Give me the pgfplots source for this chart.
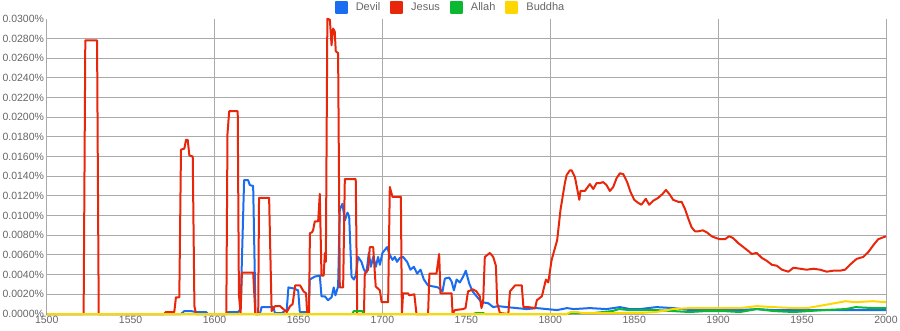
\documentclass[border=0pt]{standalone}
\usepackage{fontspec}
\setmainfont{Liberation Sans}
\usepackage{pgfplots}
\pgfplotsset{compat=1.18}
\definecolor{devil}{RGB}{26,108,240}
\definecolor{jesus}{RGB}{232,38,10}
\definecolor{allah}{RGB}{10,184,50}
\definecolor{buddha}{RGB}{255,215,0}
\definecolor{gridc}{RGB}{170,170,170}
\definecolor{txt}{RGB}{102,102,102}
\begin{document}
\begin{tikzpicture}
\useasboundingbox (0,0) rectangle (900pt,330pt);
\begin{axis}[
  at={(46.7pt,16pt)}, anchor=south west,
  scale only axis, width=839.3pt, height=295.3pt,
  xmin=1500, xmax=2000, ymin=0, ymax=300,
  clip=false,
  axis line style={draw=none},
  major tick length=0pt,
  tick style={draw=none},
  xtick={1500,1550,1600,1650,1700,1750,1800,1850,1900,1950,2000},
  xticklabels={1500,1550,1600,1650,1700,1750,1800,1850,1900,1950,2000},
  extra x ticks={1500,1600,1700,1800,1900,2000},
  extra x tick labels={},
  extra x tick style={grid=major},
  ytick={0,20,40,60,80,100,120,140,160,180,200,220,240,260,280},
  yticklabels={0.0000\%,0.0020\%,0.0040\%,0.0060\%,0.0080\%,0.0100\%,0.0120\%,0.0140\%,0.0160\%,0.0180\%,0.0200\%,0.0220\%,0.0240\%,0.0260\%,0.0280\%},
  extra y ticks={300},
  extra y tick labels={0.0300\%},
  extra y tick style={grid=none},
  ymajorgrids=true,
  grid style={gridc, line width=1pt},
  ticklabel style={font=\fontsize{10.5}{12}\selectfont, text=txt},
  yticklabel style={anchor=east, inner xsep=0pt, xshift=-2.5pt},
  xticklabel style={anchor=north, inner ysep=0pt, yshift=-2pt},
  legend style={at={(0.48,1.0396)}, anchor=center, draw=none, fill=none,
    font=\fontsize{11}{13}\selectfont, text=txt, inner sep=0pt,
    nodes={inner sep=0pt},
    /tikz/every odd column/.append style={column sep=8pt},
    /tikz/every even column/.append style={column sep=10pt}},
  legend columns=4,
  legend image code/.code={\fill[#1] (0pt,-5.5pt) rectangle (11pt,5.5pt);},
  every axis plot/.append style={line width=2pt, line join=round, mark=none},
]
\addplot[devil] coordinates {
(1500,0)(1580,0)(1582,3)(1586,3)(1589,2)(1595,2)(1596,0)(1607,0)(1608,2)(1614,2)(1615.5,5)
(1617.6,136)(1620,136)(1621,131)(1623,130)(1624.4,0)(1627,0)(1628,7)(1635,7)(1636,1)(1640,1)
(1641,2)(1643,4)(1644,27)(1647,26)(1649.8,24)(1650.8,2)(1656,2)(1656.7,35)(1659.7,38)(1662.7,39)
(1663.7,18)(1665.7,18)(1667.6,14)(1669.7,17)(1671,27)(1672,19)(1673.6,28)(1674.6,106)(1676.2,112)
(1677.6,95)(1679.2,103)(1680.2,99)(1681.6,38)(1683,35)(1684.1,39)(1685.5,58)(1687.5,53)(1689,45)
(1690.5,42)(1691.9,62)(1693.1,48)(1694.5,58)(1696.1,48)(1697.4,58)(1698.5,50)(1700,62)(1701.4,65)
(1702.8,68)(1704.4,60)(1706,55)(1707.4,58)(1708.7,53)(1710.4,57)(1712.3,58)(1714.7,53)(1716.7,45)
(1718.7,48)(1720.7,41)(1722.7,45)(1724.7,35)(1727.2,29)(1730.2,28)(1733.2,27)(1735.8,23)(1737.2,36)
(1739.8,37)(1741.2,33)(1742.6,24)(1744.2,35)(1746.1,32)(1748.1,38)(1749.7,44)(1751.7,31)(1753.7,23)
(1756.1,18)(1759,12)(1763,11)(1766,7)(1769,8)(1774,7)(1780,6)(1786,5)(1792,6)(1798,5)(1804,4)
(1810,6)(1814,5)(1823.6,6)(1833.5,5)(1841.5,7)(1847.4,5)(1853.4,5)(1863.3,7)(1873.2,6)(1883.2,4)
(1893.2,4)(1903,4)(1913,4)(1923,5)(1933,4)(1953,4)(1973,4)(2000,4)
};
\addlegendentry{Devil}
\addplot[jesus] coordinates {
(1500,0)(1522,0)(1523,278)(1530,278)(1531,0)(1570,0)(1571,2)(1576,2)(1577,17)(1579,17)(1580,167)
(1582,168)(1583,177)(1584,177)(1585,161)(1587,160)(1588,8)(1589,0)(1607,0)(1607.7,183)(1608.7,206)
(1613.8,206)(1614.5,20)(1615.5,0)(1616.3,42)(1623,42)(1624.3,0)(1626,0)(1626.5,118)(1632.5,118)
(1634,3)(1636,8)(1639,8)(1641,5)(1643,2)(1645,8)(1646.5,10)(1648,29)(1651,29)(1653,23)(1654.5,21)
(1655.2,0)(1656.3,0)(1656.8,82)(1658,83)(1658.7,85)(1659.7,94)(1661.7,94)(1662.7,122)(1663.7,39)
(1665,39)(1665.7,62)(1666.3,53)(1667.2,300)(1668.7,299)(1669.7,273)(1670.6,290)(1671.6,287)
(1672.2,267)(1673.6,265)(1674.6,27)(1676.6,27)(1677.6,137)(1684.1,137)(1685,0)(1689,0)(1689.5,41)
(1691.5,45)(1692.5,68)(1694.5,68)(1696,28)(1698.5,24)(1699.5,12)(1703.4,12)(1704.4,129)(1706,119)
(1711,119)(1711.6,0)(1712.3,21)(1715.3,21)(1716,19)(1719,20)(1720.3,0)(1727.2,0)(1728,41)
(1732.2,41)(1733.8,61)(1734.6,21)(1741.2,21)(1741.8,0)(1743.2,4)(1748,5)(1749.5,6)(1751,23)
(1754,25)(1756,23)(1758,18)(1759,6)(1760,12)(1761,58)(1764,62)(1766,58)(1767.6,49)(1768.4,11)
(1770,1)(1775,0)(1776,23)(1779,29)(1783,29)(1784,7)(1787,7)(1791,6)(1792,14)(1795,18)(1797.4,35)
(1798.8,32)(1800.8,55)(1804.1,75)(1806.1,106)(1808.7,133)(1809.7,141)(1811.7,146)(1812.7,146)
(1814.7,139)(1817.3,116)(1818,125)(1820.6,125)(1823.6,132)(1825.6,127)(1827.6,133)(1829.6,133)
(1831.5,134)(1833.5,131)(1835.5,125)(1837.5,129)(1839.5,138)(1841.5,143)(1843.5,142)(1845.8,134)
(1847.8,124)(1850,116)(1852.3,113)(1854.3,111)(1856.9,117)(1858.9,111)(1861.3,115)(1864.3,118)
(1866.9,122)(1868.9,126)(1870.9,122)(1873.2,116)(1876.2,114)(1878.2,114)(1880.2,107)(1882.2,97)
(1884.2,88)(1886.2,84)(1888.1,84)(1890.8,85)(1893.2,83)(1896.1,79)(1899.1,77)(1901.1,76)(1904.1,76)
(1906.6,79)(1909,77)(1912,72)(1915,68)(1918,64)(1920,61)(1923,62)(1926,57)(1929,54)(1932,50)
(1935,49)(1938,45)(1941.9,43)(1944.8,47)(1948.8,46)(1952.8,45)(1956.7,46)(1960.7,45)(1964.7,43)
(1968.6,44)(1972.6,44)(1975.6,45)(1978.5,50)(1982.5,56)(1986.5,58)(1989.5,63)(1992.5,70)(1995.4,76)
(2000,79)
};
\addlegendentry{Jesus}
\addplot[allah] coordinates {
(1500,0)(1682,0)(1683,3)(1688,3)(1689,0)(1754,0)(1756,1)(1760,1)(1761,0)(1810,0)(1813,1)(1826,1)
(1837,3)(1841,5)(1847,4)(1863,4)(1873,3)(1883,2)(1893,3)(1903,3)(1913,2)(1923,5)(1933,3)(1945,2)
(1963,4)(1976,5)(1982,7)(1992,6)(2000,6)
};
\addlegendentry{Allah}
\addplot[buddha] coordinates {
(1500,0)(1810,0)(1812,2)(1816,2)(1819,1)(1833,1)(1853,1)(1863,2)(1873,5)(1883,6)(1893,6)(1903,6)
(1913,6)(1923,8)(1933,7)(1945,6)(1953,6)(1963,9)(1976,13)(1982,12)(1992,13)(2000,12)
};
\addlegendentry{Buddha}
\end{axis}
\end{tikzpicture}
\end{document}
